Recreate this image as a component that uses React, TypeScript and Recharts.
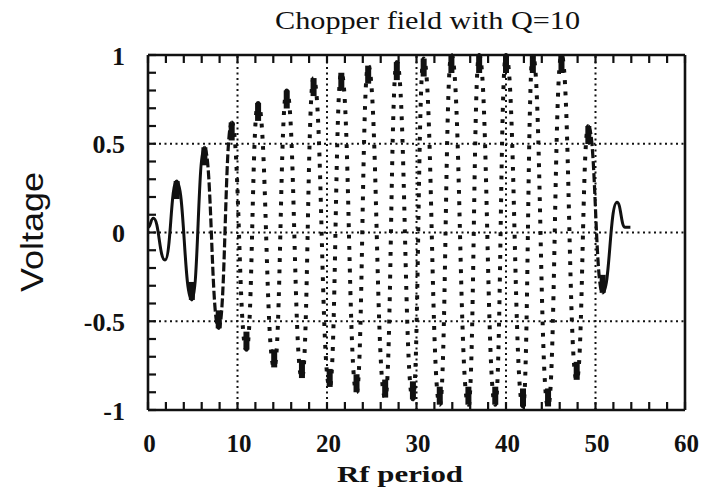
import { LineChart, Line, XAxis, YAxis, ReferenceLine } from "recharts";

// extrema (x = rf period, v = voltage)
const rfPeriod = [
  0, 0.6, 1.9, 3.2, 4.9, 6.3, 7.9, 9.35, 11.0, 12.3, 14.1, 15.5, 17.2, 18.5, 20.3,
  21.6, 23.3, 24.6, 26.5, 27.8, 29.6, 30.8, 32.6, 33.9, 35.8, 37.0, 38.8, 40.0,
  41.9, 43.0, 44.7, 46.2, 47.9, 49.2, 50.8, 52.4, 53.3, 53.9,
];
const voltage = [
  0.03, 0.08, -0.155, 0.29, -0.38, 0.48, -0.54, 0.62, -0.66, 0.73, -0.76, 0.8,
  -0.82, 0.87, -0.87, 0.9, -0.9, 0.94, -0.93, 0.96, -0.94, 0.98, -0.97, 1.0, -0.97,
  1.0, -0.97, 1.0, -0.98, 1.0, -0.98, 1.0, -0.83, 0.6, -0.34, 0.17, 0.03, 0.03,
];
// how the trace is drawn between two x positions
const strokeRanges = [
  { style: "solid", from: 0, to: 6.3 },
  { style: "dash", from: 6.3, to: 9.35 },
  { style: "dot", from: 9.35, to: 49.2 },
  { style: "dash", from: 49.2, to: 50.8 },
  { style: "solid", from: 50.8, to: 53.9 },
];

const xDomain = [0, 60];
const yDomain = [-1, 1];
const xMajorTicks = [0, 10, 20, 30, 40, 50, 60];
const xGrid = [10, 20, 30, 40, 50];
const xMinorTicks = Array.from({ length: 31 }, (_, i) => i * 2);
const yMajorTicks = [-1, -0.5, 0, 0.5, 1];
const yGrid = [-0.5, 0, 0.5];
const yMinorTicks = Array.from({ length: 21 }, (_, i) => (i - 10) / 10);

const styles = ["solid", "dash", "dot"];

const rows = rfPeriod.map((x, i) => {
  const row: Record<string, number | undefined> = { x, v: voltage[i] };
  styles.forEach((s) => {
    const inRange = strokeRanges.some((r) => r.style === s && x >= r.from && x <= r.to);
    if (inRange) row[s] = voltage[i];
  });
  return row;
});

const INK = "#111";
const SERIF = "'Liberation Serif', 'Times New Roman', serif";
const SANS = "'Liberation Sans', Arial, sans-serif";
const TICK_PX = 8;

function BottomLabel({ x, y, payload }: any) {
  return (
    <text x={x + 1.5} y={y + TICK_PX + 42} textAnchor="middle" fontFamily={SERIF} fontWeight="bold" fontSize={25} fill={INK}>
      {payload.value}
    </text>
  );
}

function LeftLabel({ x, y, payload }: any) {
  return (
    <text x={x - TICK_PX - 23} y={y + 9.5} textAnchor="end" fontFamily={SERIF} fontWeight="bold" fontSize={26} fill={INK}>
      {String(payload.value)}
    </text>
  );
}

function NoLabel() {
  return <g />;
}

// solid blocks where the trace piles up at each crest / trough
function CrestBlock(props: any) {
  const { cx, cy, value, index } = props;
  if (cx == null || cy == null || Math.abs(value) < 0.25) return <g key={`b-${index}`} />;
  const h = 18;
  const top = value > 0 ? cy : cy - h;
  return <rect key={`b-${index}`} x={cx - 3} y={top} width={6} height={h} fill={INK} />;
}

export default function App() {
  const tickLine = { stroke: INK, strokeWidth: 2.2 };
  const frame = { stroke: INK, strokeWidth: 2.6 };
  // negative tickSize turns the ticks inward on every side of the frame
  return (
    <div style={{ position: "absolute", left: 0, top: 0, width: 702, height: 495, background: "#fff" }}>
      <LineChart width={702} height={495} data={rows} margin={{ top: 54, right: 16, bottom: 0, left: 0 }}>
        <XAxis
          dataKey="x"
          type="number"
          domain={xDomain}
          ticks={xMinorTicks}
          interval={0}
          height={85}
          tickSize={-TICK_PX}
          tickMargin={0}
          tickLine={tickLine}
          axisLine={frame}
          tick={(p: any) => (xMajorTicks.includes(p.payload.value) ? <BottomLabel {...p} /> : <NoLabel />)}
        />
        <XAxis
          xAxisId="top"
          orientation="top"
          dataKey="x"
          type="number"
          domain={xDomain}
          ticks={xMinorTicks}
          interval={0}
          height={1}
          tickSize={-TICK_PX}
          tickMargin={0}
          tickLine={tickLine}
          axisLine={frame}
          tick={<NoLabel />}
        />
        <YAxis
          type="number"
          domain={yDomain}
          ticks={yMinorTicks}
          interval={0}
          width={148}
          tickSize={-TICK_PX}
          tickMargin={0}
          tickLine={tickLine}
          axisLine={frame}
          tick={(p: any) => (yMajorTicks.includes(p.payload.value) ? <LeftLabel {...p} /> : <NoLabel />)}
        />
        <YAxis
          yAxisId="right"
          orientation="right"
          type="number"
          domain={yDomain}
          ticks={yMinorTicks}
          interval={0}
          width={1}
          tickSize={-TICK_PX}
          tickMargin={0}
          tickLine={tickLine}
          axisLine={frame}
          tick={<NoLabel />}
        />
        {xGrid.map((g) => (
          <ReferenceLine key={`gx-${g}`} x={g} stroke={INK} strokeWidth={2} strokeDasharray="2 3.5" />
        ))}
        {yGrid.map((g) => (
          <ReferenceLine key={`gy-${g}`} y={g} stroke={INK} strokeWidth={2} strokeDasharray="2 3.5" />
        ))}
        <Line dataKey="solid" type="bumpX" stroke={INK} strokeWidth={3} dot={false} isAnimationActive={false} />
        <Line dataKey="dash" type="bumpX" stroke={INK} strokeWidth={3.2} strokeDasharray="9 3" dot={false} isAnimationActive={false} />
        <Line
          dataKey="dot"
          type="bumpX"
          stroke={INK}
          strokeWidth={4}
          strokeDasharray="3.8 7.5"
          strokeLinecap="butt"
          dot={false}
          isAnimationActive={false}
        />
        <Line dataKey="v" type="bumpX" stroke="none" dot={CrestBlock} activeDot={false} isAnimationActive={false} />
      </LineChart>
      <svg width={702} height={495} style={{ position: "absolute", left: 0, top: 0, pointerEvents: "none" }}>
        <text x={275} y={29} fontFamily={SERIF} fontSize={25} fill={INK} textLength={305} lengthAdjust="spacingAndGlyphs">
          Chopper field with Q=10
        </text>
        <text x={337} y={482} fontFamily={SERIF} fontWeight="bold" fontSize={24} fill={INK} textLength={126} lengthAdjust="spacingAndGlyphs">
          Rf period
        </text>
        <text
          transform="translate(43, 232) rotate(-90)"
          textAnchor="middle"
          fontFamily={SANS}
          fontSize={32}
          fill={INK}
          textLength={120}
          lengthAdjust="spacingAndGlyphs"
        >
          Voltage
        </text>
      </svg>
    </div>
  );
}
